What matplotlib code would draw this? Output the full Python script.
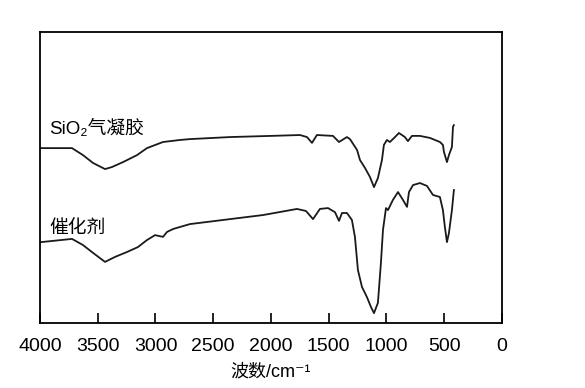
import numpy as np
import matplotlib
matplotlib.use('Agg')
import matplotlib.pyplot as plt

plt.rcParams['font.family'] = ['Liberation Sans', 'DejaVu Sans', 'Noto Sans CJK SC']

# SiO2 aerogel spectrum (wavenumber, transmittance, arbitrary units)
aerogel_wn = [3991, 3723, 3628, 3541, 3437, 3377, 3281, 3160, 3074, 2935, 2788, 2701,
              2355, 2000, 1749, 1688, 1645, 1602, 1463, 1411, 1342, 1316, 1255, 1229,
              1186, 1143, 1108, 1074, 1039, 1022, 996, 970, 926, 892, 840, 814, 779,
              710, 623, 537, 511, 502, 476, 459, 433, 424, 416]
aerogel_t = [60.1, 60.1, 57.7, 55.0, 52.9, 53.6, 55.3, 57.7, 60.1, 62.2, 62.9, 63.2,
             63.9, 64.3, 64.6, 63.9, 61.9, 64.6, 64.3, 62.2, 63.9, 63.2, 59.5, 56.0,
             53.3, 50.2, 46.7, 49.8, 56.0, 61.2, 62.9, 62.2, 63.9, 65.3, 63.9, 62.5, 64.3,
             64.3, 63.6, 62.2, 61.2, 58.8, 55.3, 57.7, 60.5, 67.4, 68.0]

# catalyst spectrum
catalyst_wn = [3991, 3723, 3628, 3541, 3437, 3351, 3247, 3152, 3074, 3004, 2935, 2900,
               2848, 2788, 2701, 2355, 2069, 1775, 1697, 1636, 1576, 1506, 1446, 1411,
               1385, 1342, 1299, 1273, 1247, 1212, 1169, 1134, 1108, 1074, 1048, 1030,
               1004, 987, 944, 900, 857, 822, 805, 770, 710, 649, 597, 537, 511, 494,
               476, 459, 433, 416]
catalyst_t = [27.8, 28.9, 26.8, 24.1, 21.0, 22.7, 24.4, 26.1, 28.5, 30.2, 29.6, 31.3,
              32.3, 33.0, 34.0, 35.7, 37.1, 39.2, 38.5, 35.7, 39.2, 39.5, 38.1, 35.1,
              37.8, 37.8, 35.4, 29.6, 18.2, 12.4, 8.9, 5.5, 3.4, 6.9, 20.6, 32.0,
              39.5, 38.8, 42.3, 45.0, 42.3, 39.9, 45.0, 47.4, 48.1, 47.1, 44.0, 43.3, 38.8, 33.0,
              27.8, 30.9, 38.8, 45.7]

xticks = [4000, 3500, 3000, 2500, 2000, 1500, 1000, 500, 0]

fig = plt.figure(figsize=(5.85, 3.88), dpi=100)
ax = fig.add_axes([0.0684, 0.1675, 0.7896, 0.75])

ax.plot(aerogel_wn, aerogel_t, color='#1a1a1a', lw=1.3)
ax.plot(catalyst_wn, catalyst_t, color='#1a1a1a', lw=1.3)

ax.set_xlim(4000, 0)
ax.set_ylim(0, 100)
ax.set_xticks(xticks)
ax.set_yticks([])
ax.tick_params(axis='x', direction='in', length=7, width=1.2, labelsize=14, pad=11)
for s in ax.spines.values():
    s.set_linewidth(1.3)

ax.text(3920, 66.6, 'SiO₂气凝胶', fontsize=13.5, va='center', ha='left')
ax.text(3920, 32.6, '催化剂', fontsize=13.5, va='center', ha='left')

ax.set_xlabel('波数/cm⁻¹', fontsize=13, labelpad=6)

plt.savefig('out.png', dpi=100)
